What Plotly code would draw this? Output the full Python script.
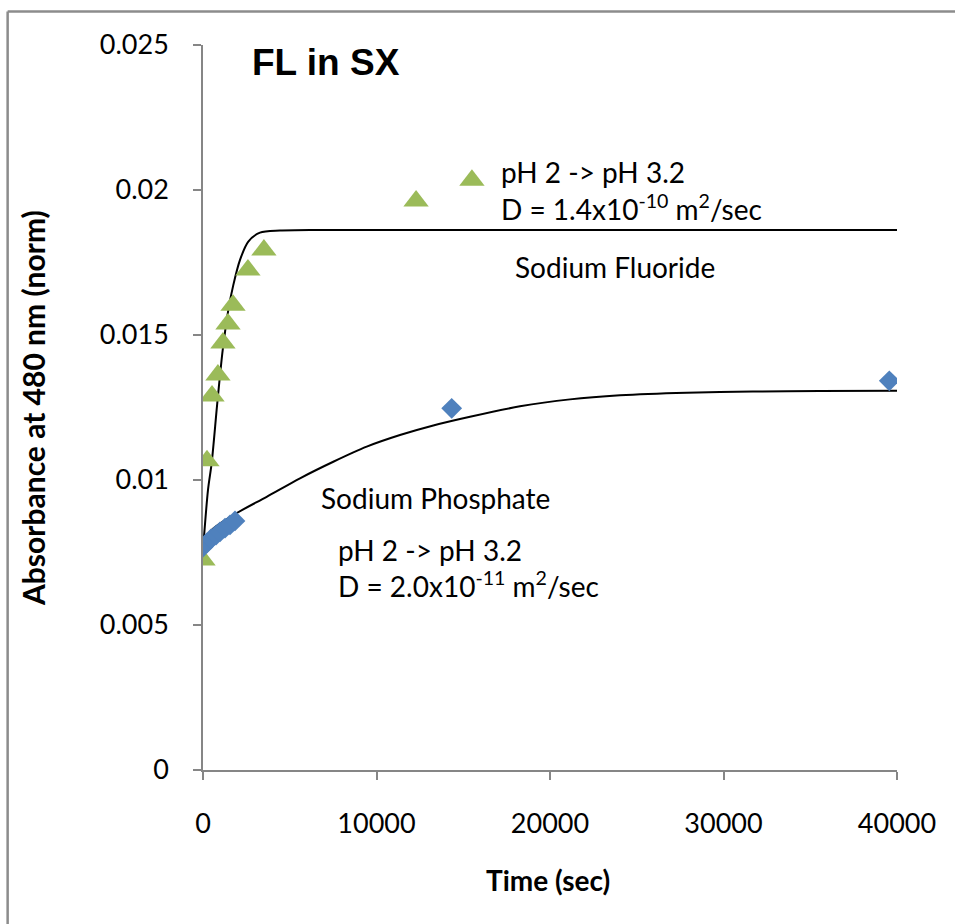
import plotly.graph_objects as go

# Sodium Fluoride (green triangles)
fl_t = [0, 230, 520, 860, 1150, 1440, 1730, 2590, 3510, 12280, 15500]
fl_y = [0.00724, 0.01066, 0.0129, 0.01362, 0.01472, 0.01538, 0.01603, 0.01724, 0.01793, 0.01962, 0.02034]

# Sodium Phosphate (blue diamonds)
ph_t = [0, 230, 461, 749, 980, 1268, 1556, 1844, 14334, 39556]
ph_y = [0.00769, 0.00783, 0.00797, 0.0081, 0.00821, 0.00834, 0.00845, 0.00859, 0.01247, 0.01342]

# Fit curves
fl_fit_t = [0, 288, 500, 824, 1135, 1458, 1746, 2133, 2611, 3285, 4438, 6744, 40000]
fl_fit_y = [0.00759, 0.00966, 0.01059, 0.01266, 0.01448, 0.01586, 0.01672, 0.01759, 0.01822, 0.01853, 0.0186, 0.01862, 0.01862]

ph_fit_t = [0, 403, 1746, 3671, 5591, 7510, 9435, 11354, 13274, 15389, 18271, 21153, 24035, 27879, 31700, 35562, 40000]
ph_fit_y = [0.00755, 0.00822, 0.00879, 0.00942, 0.01006, 0.01063, 0.01115, 0.01155, 0.01188, 0.01218, 0.01254, 0.01278, 0.01292, 0.01301, 0.01305, 0.01307, 0.01308]

x_ticks = [0, 10000, 20000, 30000, 40000]
y_ticks = [0, 0.005, 0.01, 0.015, 0.02, 0.025]
y_tick_labels = ["0", "0.005", "0.01", "0.015", "0.02", "0.025"]

FONT = "Lato"
GREEN = "#9BBB59"
BLUE = "#4F81BD"
AXIS = "#868686"

fig = go.Figure()
fig.add_trace(go.Scatter(x=fl_fit_t, y=fl_fit_y, mode="lines",
                         line=dict(color="black", width=2, shape="spline", smoothing=0.8), showlegend=False))
fig.add_trace(go.Scatter(x=ph_fit_t, y=ph_fit_y, mode="lines",
                         line=dict(color="black", width=2, shape="spline", smoothing=0.8), showlegend=False))
fig.add_trace(go.Scatter(x=fl_t, y=fl_y, mode="markers",
                         marker=dict(symbol="triangle-up", size=22, color=GREEN), showlegend=False))
fig.add_trace(go.Scatter(x=ph_t, y=ph_y, mode="markers",
                         marker=dict(symbol="diamond", size=16, color=BLUE), showlegend=False))

ann_font = dict(size=28, family=FONT, color="black")
annots = [
    dict(x=2709, y=0.02438, text="<b>FL in SX</b>", font=dict(size=37, family="Liberation Sans", color="black")),
    dict(x=17070, y=0.02062, text="pH 2 -> pH 3.2"),
    dict(x=17070, y=0.01941, text="D = 1.4x10<sup>-10</sup> m<sup>2</sup>/sec"),
    dict(x=17870, y=0.01734, text="Sodium Fluoride"),
    dict(x=6690, y=0.00938, text="Sodium Phosphate"),
    dict(x=7670, y=0.00759, text="pH 2 -> pH 3.2"),
    dict(x=7670, y=0.00638, text="D = 2.0x10<sup>-11</sup> m<sup>2</sup>/sec"),
]
for a in annots:
    fig.add_annotation(x=a["x"], y=a["y"], text=a["text"], showarrow=False,
                       xanchor="left", yanchor="middle",
                       font=a.get("font", ann_font))

# axis titles
fig.add_annotation(xref="paper", yref="paper", x=0.497, y=-0.1517, text="<b>Time (sec)</b>",
                   showarrow=False, xanchor="center", yanchor="middle",
                   font=dict(size=28, family=FONT, color="black"))
fig.add_annotation(xref="paper", yref="paper", x=-0.245, y=0.4993, text="<b>Absorbance at 480 nm (norm)</b>",
                   showarrow=False, xanchor="center", yanchor="middle", textangle=-90,
                   font=dict(size=30, family=FONT, color="black"))

fig.update_xaxes(range=[0, 40000], tickvals=x_ticks, ticktext=[str(v) for v in x_ticks],
                 showline=True, linecolor=AXIS, linewidth=1.5, ticks="outside", ticklen=8,
                 tickcolor=AXIS, tickwidth=1.5, showgrid=False, zeroline=False,
                 ticklabelstandoff=21,
                 tickfont=dict(size=27, family=FONT, color="black"))
fig.update_yaxes(range=[0, 0.025], tickvals=y_ticks, ticktext=y_tick_labels,
                 showline=True, linecolor=AXIS, linewidth=1.5, ticks="outside", ticklen=8,
                 tickcolor=AXIS, tickwidth=1.5, showgrid=False, zeroline=False,
                 ticklabelstandoff=19,
                 tickfont=dict(size=27, family=FONT, color="black"))

# chart frame (left and top edges)
fig.add_shape(type="line", xref="paper", yref="paper", x0=-0.2815, x1=-0.2815, y0=-0.25, y1=1.0462,
              line=dict(color="#8c8c8c", width=2.5))
fig.add_shape(type="line", xref="paper", yref="paper", x0=-0.2815, x1=1.2, y0=1.0462, y1=1.0462,
              line=dict(color="#8c8c8c", width=2.5))

fig.update_layout(width=955, height=924, margin=dict(l=203, r=58, t=45, b=154),
                  plot_bgcolor="white", paper_bgcolor="white",
                  font=dict(family=FONT, color="black"))
fig.write_html("out.html")
